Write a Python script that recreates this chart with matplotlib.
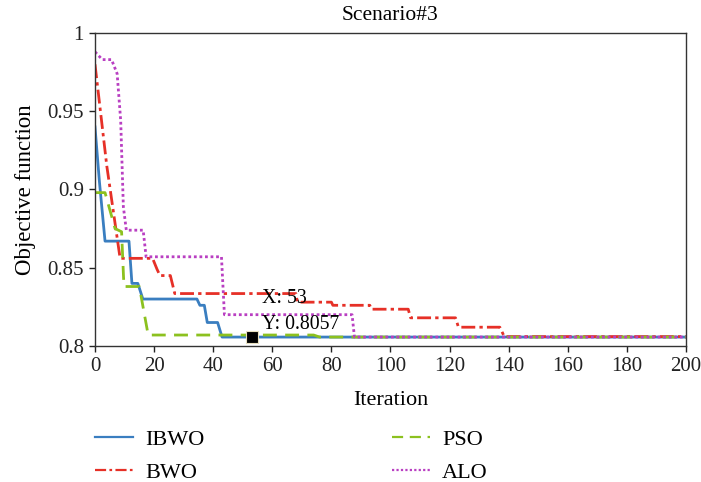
import matplotlib
matplotlib.use("Agg")
import matplotlib.pyplot as plt

plt.rcParams['font.family'] = ['Liberation Serif', 'DejaVu Serif']

# IBWO
ibwo_x = [0, 1.5, 3.4, 11.5, 12.5, 14.5, 16.2, 34.5, 35.5, 37, 38, 41.5, 43, 200]
ibwo_y = [0.940, 0.905, 0.867, 0.867, 0.840, 0.840, 0.830, 0.830, 0.826, 0.826, 0.815, 0.815, 0.8057, 0.8057]
# BWO
bwo_x = [0, 4, 8.5, 19.5, 21, 22, 25.5, 27, 68, 68.5, 80, 80.5, 93, 93.5, 106, 106.8, 122, 123, 137, 138.5, 200]
bwo_y = [0.980, 0.915, 0.856, 0.856, 0.849, 0.845, 0.845, 0.8335, 0.8335, 0.828, 0.828, 0.826, 0.826, 0.8235, 0.8235, 0.818, 0.818, 0.812, 0.812, 0.806, 0.806]
# PSO
pso_x = [0, 3.4, 6.8, 9, 9.8, 15, 18, 74, 76, 200]
pso_y = [0.898, 0.898, 0.875, 0.873, 0.838, 0.838, 0.807, 0.807, 0.8057, 0.8057]
# ALO
alo_x = [0, 2.5, 5.6, 7.5, 8.7, 9.6, 10.6, 16.3, 17.3, 42.8, 43.8, 87, 87.8, 200]
alo_y = [0.988, 0.983, 0.983, 0.974, 0.944, 0.889, 0.874, 0.874, 0.857, 0.857, 0.820, 0.820, 0.8057, 0.8057]

tip_x, tip_y = 53, 0.8057

fig = plt.figure(figsize=(7.01, 4.82), dpi=100)
ax = fig.add_axes([0.1355, 0.2822, 0.8431, 0.6493])

l1, = ax.plot(ibwo_x, ibwo_y, color='#3A7EC0', lw=2.0, ls='-', label='IBWO')
l2, = ax.plot(bwo_x, bwo_y, color='#E63027', lw=2.0, ls=(0, (5, 1.5, 1.2, 1.5)), label='BWO')
l3, = ax.plot(pso_x, pso_y, color='#8CC11F', lw=2.0, ls=(0, (5, 3)), label='PSO')
l4, = ax.plot(alo_x, alo_y, color='#B93FC2', lw=2.0, ls=(0, (1, 1)), label='ALO')

ax.plot([tip_x], [tip_y], marker='s', ms=8, color='black', mec='#e8e0c0', mew=0.8, zorder=5)
ax.text(tip_x + 3.5, 0.8275, 'X: 53', fontsize=14.3, ha='left', va='baseline')
ax.text(tip_x + 3.5, 0.8109, 'Y: 0.8057', fontsize=14.3, ha='left', va='baseline')

ax.set_xlim(0, 200)
ax.set_ylim(0.8, 1.0)
ax.set_xticks(range(0, 201, 20))
ax.set_yticks([0.8, 0.85, 0.9, 0.95, 1.0])
ax.set_yticklabels(['0.8', '0.85', '0.9', '0.95', '1'])
ax.tick_params(direction='out', length=4.5, width=1, labelsize=15, colors='#222222')
for s in ax.spines.values():
    s.set_color('#333333')
    s.set_linewidth(1.0)

ax.text(0.5, 1.042, 'Scenario#3', fontsize=15.5, ha='center', va='baseline',
        transform=ax.transAxes)
ax.set_xlabel('Iteration', fontsize=16, labelpad=11)
ax.set_ylabel('Objective function', fontsize=16.5, labelpad=8)

leg = fig.legend(handles=[l1, l2, l3, l4], ncol=2, loc='upper left',
                 bbox_to_anchor=(0.1355, 0.110), bbox_transform=fig.transFigure,
                 frameon=False, fontsize=16, handlelength=1.73, handletextpad=0.55,
                 columnspacing=8.4, labelspacing=0.56, borderpad=0, borderaxespad=0)
for ln in leg.get_lines():
    ln.set_linewidth(1.6)

fig.savefig('out.png', dpi=100)
